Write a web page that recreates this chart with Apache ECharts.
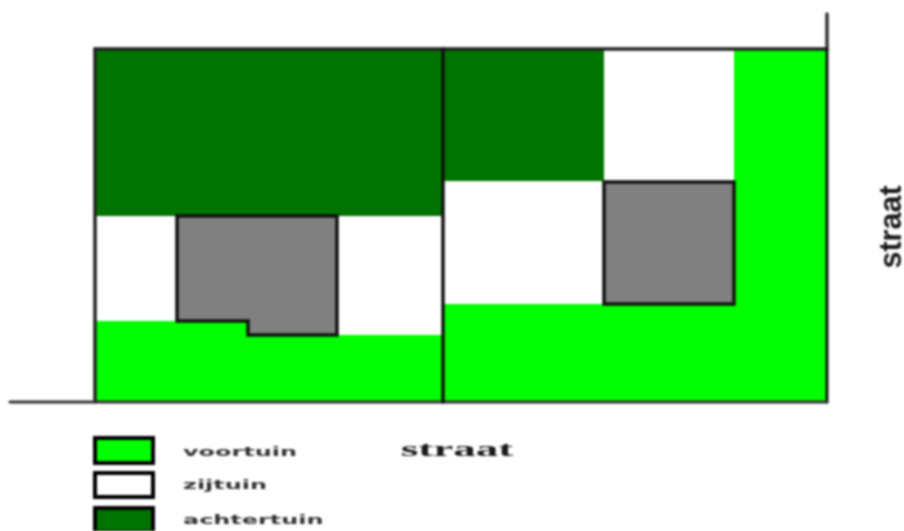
<!DOCTYPE html>
<html><head><meta charset="utf-8">
<style>html,body{margin:0;padding:0;background:#fff;overflow:hidden}#c{width:904px;height:531px;filter:blur(0.9px)}</style>
<script src="https://cdn.jsdelivr.net/npm/echarts@6/dist/echarts.min.js"></script>
</head><body><div id="c"></div>
<script>
var voortuinColor = '#00ff00', zijtuinColor = '#ffffff', achtertuinColor = '#007400', huisColor = '#808080';
var plotShapes = [
  {pts:[[95,50],[443,50],[443,216],[95,216]], fill:achtertuinColor, line:0},
  {pts:[[95,216],[177,216],[177,321],[95,321]], fill:zijtuinColor, line:0},
  {pts:[[337,216],[443,216],[443,336],[337,336]], fill:zijtuinColor, line:0},
  {pts:[[95,321],[248,321],[248,335],[443,335],[443,402],[95,402]], fill:voortuinColor, line:0},
  {pts:[[177,216],[337,216],[337,335],[248,335],[248,321],[177,321]], fill:huisColor, line:3.5},
  {pts:[[443,50],[604,50],[604,181],[443,181]], fill:achtertuinColor, line:0},
  {pts:[[604,50],[734,50],[734,181],[604,181]], fill:zijtuinColor, line:0},
  {pts:[[443,181],[604,181],[604,304],[443,304]], fill:zijtuinColor, line:0},
  {pts:[[734,50],[827,50],[827,402],[443,402],[443,304],[734,304]], fill:voortuinColor, line:0},
  {pts:[[604,182],[734,182],[734,304],[604,304]], fill:huisColor, line:3.5}
];
var plotLines = [
  {pts:[[95,402],[95,49],[827,49]], w:3.5, c:'#222'},
  {pts:[[827,49],[827,14]], w:3.5, c:'#333'},
  {pts:[[827,49],[827,402]], w:3, c:'#111'},
  {pts:[[10,402],[827,402]], w:3, c:'#333'},
  {pts:[[443,49],[443,402]], w:3.5, c:'#111'}
];
var legendNames = ['voortuin', 'zijtuin', 'achtertuin'];
var legendColors = [voortuinColor, zijtuinColor, achtertuinColor];
var legendBoxes = [[[95,438],[153,438],[153,463],[95,463]], [[95,473],[153,473],[153,497],[95,497]], [[95,508],[153,508],[153,532],[95,532]]];
var legendTextPos = [[183,453],[183,486],[183,521]];
var straatLabel = 'straat';

var chart = echarts.init(document.getElementById('c'), null, {renderer:'canvas', width:904, height:531});
function poly(api, pts, style){
  return {type:'polygon', shape:{points:pts.map(function(p){return api.coord(p);})}, style:style};
}
function lineEl(api, pts, w, c){
  return {type:'polyline', shape:{points:pts.map(function(p){return api.coord(p);})}, style:{fill:null, stroke:c, lineWidth:w, lineCap:'round', lineJoin:'miter'}};
}
function renderShape(params, api){
  var s = plotShapes[params.dataIndex];
  return poly(api, s.pts, {fill:s.fill, stroke:s.line?'#111':null, lineWidth:s.line});
}
function renderLine(params, api){
  var s = plotLines[params.dataIndex];
  return lineEl(api, s.pts, s.w, s.c);
}
function renderLegend(params, api){
  var i = params.dataIndex, p = api.coord(legendTextPos[i]);
  return {type:'group', children:[
    poly(api, legendBoxes[i], {fill:legendColors[i], stroke:'#000', lineWidth:4}),
    {type:'text', x:p[0], y:p[1], scaleX:1.84, scaleY:1, style:{text:legendNames[i], fill:'#333', font:'bold 13px "DejaVu Sans"', textAlign:'left', textVerticalAlign:'middle'}}
  ]};
}
function renderStraat(params, api){
  var p = api.coord([457,450]), q = api.coord([893,227]);
  return {type:'group', children:[
    {type:'text', x:p[0], y:p[1], scaleX:2.05, scaleY:1, style:{text:straatLabel, fill:'#1a1a1a', font:'bold 22px "Liberation Serif"', textAlign:'center', textVerticalAlign:'middle'}},
    {type:'text', x:q[0], y:q[1], rotation:Math.PI/2, style:{text:straatLabel, fill:'#1a1a1a', font:'bold 30.5px "Liberation Sans"', textAlign:'center', textVerticalAlign:'middle'}}
  ]};
}
chart.setOption({
  animation:false,
  backgroundColor:'#fff',
  grid:{left:0, right:0, top:0, bottom:0},
  xAxis:{type:'value', min:0, max:904, show:false},
  yAxis:{type:'value', min:0, max:531, inverse:true, show:false},
  tooltip:{show:false},
  series:[
    {type:'custom', coordinateSystem:'cartesian2d', clip:false, silent:true, renderItem:renderShape, data:plotShapes.map(function(s){return s.pts[0];})},
    {type:'custom', coordinateSystem:'cartesian2d', clip:false, silent:true, renderItem:renderLine, data:plotLines.map(function(s){return s.pts[0];})},
    {type:'custom', coordinateSystem:'cartesian2d', clip:false, silent:true, renderItem:renderLegend, data:legendBoxes.map(function(b){return b[0];})},
    {type:'custom', coordinateSystem:'cartesian2d', clip:false, silent:true, renderItem:renderStraat, data:[[457,450]]}
  ]
});
</script></body></html>
